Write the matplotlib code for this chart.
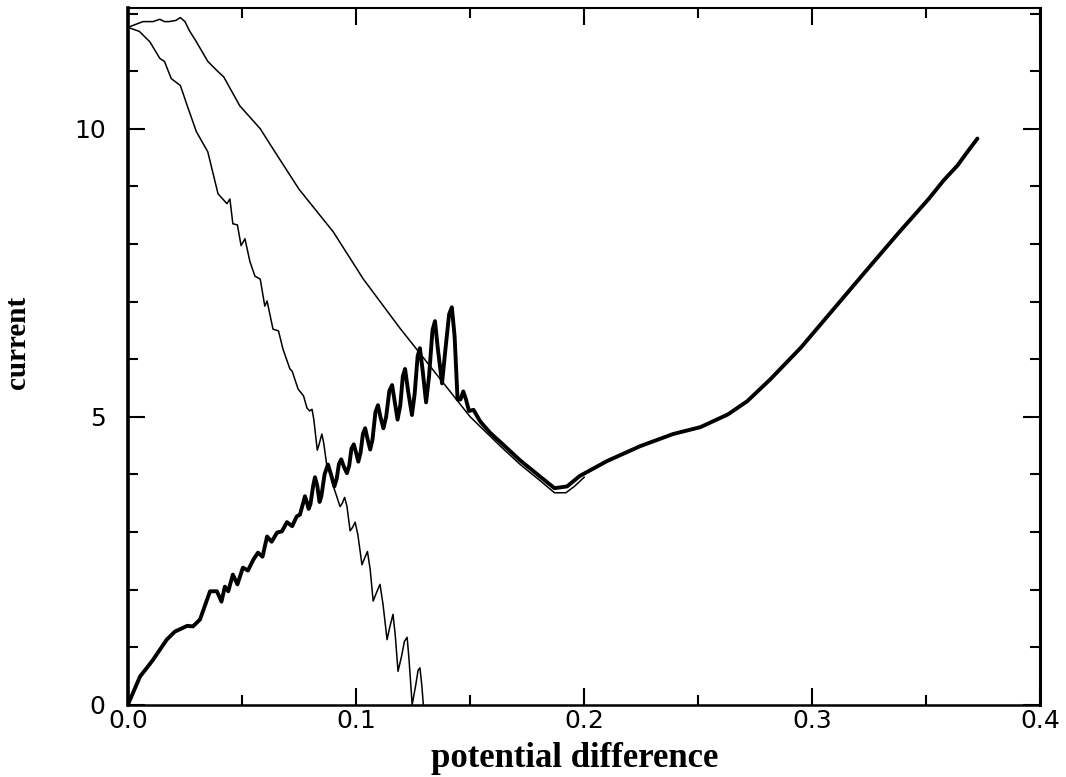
import matplotlib
matplotlib.use("Agg")
import matplotlib.pyplot as plt
from matplotlib.ticker import MultipleLocator

# upper thin curve (slow decay)
upper_x = [0.0, 0.0066, 0.011, 0.014, 0.016, 0.018, 0.021, 0.023, 0.025, 0.027,
           0.030, 0.035, 0.039, 0.042, 0.049, 0.058, 0.0636, 0.075, 0.090, 0.1032,
           0.119, 0.1266, 0.138, 0.150, 0.163, 0.172, 0.181, 0.187, 0.192, 0.196, 0.200]
upper_y = [11.76, 11.86, 11.86, 11.90, 11.86, 11.86, 11.88, 11.93, 11.86, 11.70,
           11.51, 11.17, 11.01, 10.90, 10.40, 10.0, 9.65, 8.95, 8.21, 7.39,
           6.55, 6.17, 5.60, 5.00, 4.50, 4.17, 3.88, 3.68, 3.68, 3.80, 3.95]

# steep thin curve (falls to zero with ripples)
steep_x = [0.0, 0.005, 0.0096, 0.014, 0.016, 0.019, 0.023, 0.026, 0.030, 0.035,
           0.0395, 0.0434, 0.0447, 0.046, 0.048, 0.0496, 0.0513, 0.0535, 0.0557, 0.058,
           0.060, 0.061, 0.0636, 0.066, 0.068, 0.071, 0.072, 0.0746, 0.0770, 0.0785,
           0.0797, 0.0807, 0.0815, 0.0830, 0.0838, 0.0850, 0.0858, 0.0873, 0.0885, 0.0900,
           0.0930, 0.0940, 0.0950, 0.0960, 0.0974, 0.0985, 0.0996, 0.1008, 0.1026, 0.1038,
           0.1050, 0.1062, 0.1075, 0.1090, 0.1105, 0.1118, 0.1136, 0.1148, 0.1162, 0.1172,
           0.1184, 0.1200, 0.1212, 0.1224, 0.1232, 0.1246, 0.1262, 0.1272, 0.1280, 0.1288,
           0.1295]
steep_y = [11.76, 11.69, 11.51, 11.22, 11.17, 10.87, 10.75, 10.40, 9.95, 9.60,
           8.87, 8.70, 8.78, 8.35, 8.33, 7.97, 8.09, 7.69, 7.44, 7.39,
           6.92, 7.01, 6.52, 6.49, 6.17, 5.83, 5.79, 5.48, 5.36, 5.15,
           5.10, 5.13, 4.95, 4.42, 4.52, 4.70, 4.55, 4.12, 4.05, 3.80,
           3.44, 3.50, 3.60, 3.45, 3.02, 3.08, 3.17, 2.95, 2.43, 2.55,
           2.66, 2.35, 1.80, 1.95, 2.09, 1.75, 1.13, 1.35, 1.57, 1.20,
           0.58, 0.85, 1.10, 1.17, 0.80, 0.0, 0.35, 0.60, 0.64, 0.35,
           0.0]

# thick curve (rises, oscillates, dips, rises again)
thick_x = [0.0, 0.0053, 0.0083, 0.011, 0.017, 0.0206, 0.026, 0.0285, 0.0316, 0.036,
           0.039, 0.041, 0.0425, 0.044, 0.046, 0.048, 0.0504, 0.0526, 0.055, 0.057,
           0.059, 0.061, 0.063, 0.0654, 0.0675, 0.0697, 0.072, 0.074, 0.0754, 0.0768,
           0.0776, 0.0784, 0.0792, 0.0800, 0.0812, 0.0820, 0.0830, 0.0840, 0.0848, 0.0862,
           0.0877, 0.0890, 0.0905, 0.0915, 0.0925, 0.0935, 0.0948, 0.0960, 0.0970, 0.0980,
           0.0990, 0.1000, 0.1010, 0.1020, 0.1030, 0.1040, 0.1050, 0.1062, 0.1072, 0.1085,
           0.1096, 0.1108, 0.1120, 0.1132, 0.1146, 0.1158, 0.1170, 0.1182, 0.1194, 0.1205,
           0.1215, 0.1228, 0.1245, 0.1257, 0.1270, 0.1280, 0.1292, 0.1307, 0.1320, 0.1335,
           0.1346, 0.1358, 0.1377, 0.1390, 0.1408, 0.1420, 0.1432, 0.1445, 0.1458, 0.1470,
           0.1482, 0.1495, 0.1515, 0.1544, 0.1588, 0.163, 0.172, 0.181, 0.187, 0.1925,
           0.198, 0.21, 0.2246, 0.239, 0.251, 0.263, 0.2715, 0.2816, 0.295, 0.31,
           0.325, 0.338, 0.351, 0.3575, 0.3636, 0.3684, 0.3724]
thick_y = [0.0, 0.49, 0.64, 0.78, 1.13, 1.27, 1.37, 1.36, 1.48, 1.97,
           1.97, 1.79, 2.05, 1.97, 2.26, 2.09, 2.38, 2.33, 2.52, 2.64,
           2.57, 2.92, 2.83, 2.99, 3.01, 3.17, 3.10, 3.27, 3.30, 3.50,
           3.62, 3.52, 3.40, 3.48, 3.80, 3.95, 3.80, 3.52, 3.62, 4.00,
           4.17, 4.00, 3.79, 3.92, 4.18, 4.26, 4.12, 4.02, 4.15, 4.45,
           4.52, 4.38, 4.22, 4.38, 4.70, 4.80, 4.62, 4.43, 4.60, 5.08,
           5.20, 4.98, 4.80, 5.00, 5.45, 5.55, 5.25, 4.95, 5.20, 5.70,
           5.83, 5.45, 5.03, 5.40, 6.05, 6.19, 5.80, 5.25, 5.70, 6.50,
           6.66, 6.20, 5.58, 6.10, 6.78, 6.90, 6.40, 5.30, 5.30, 5.44,
           5.30, 5.10, 5.12, 4.92, 4.72, 4.57, 4.24, 3.95, 3.76, 3.79,
           3.97, 4.23, 4.49, 4.70, 4.82, 5.04, 5.27, 5.65, 6.20, 6.90,
           7.60, 8.20, 8.78, 9.10, 9.36, 9.62, 9.83]

fig = plt.figure(figsize=(10.66, 7.77), dpi=100)
ax = fig.add_axes([0.120, 0.093, 0.856, 0.897])

ax.plot(upper_x, upper_y, color="black", lw=1.1, solid_joinstyle="round")
ax.plot(steep_x, steep_y, color="black", lw=1.1, solid_joinstyle="round")
ax.plot(thick_x, thick_y, color="black", lw=2.8, solid_joinstyle="round",
        solid_capstyle="round")

ax.set_xlim(0, 0.4)
ax.set_ylim(0, 12.1)
ax.xaxis.set_major_locator(MultipleLocator(0.1))
ax.xaxis.set_minor_locator(MultipleLocator(0.05))
ax.yaxis.set_major_locator(MultipleLocator(5))
ax.yaxis.set_minor_locator(MultipleLocator(1))
ax.set_xticks([0.0, 0.1, 0.2, 0.3, 0.4])
ax.set_xticklabels(["0.0", "0.1", "0.2", "0.3", "0.4"])

ax.tick_params(which="both", direction="in", top=True, right=True,
               labelsize=18, width=1.5, colors="black")
ax.tick_params(which="major", length=12)
ax.tick_params(which="minor", length=7)
ax.tick_params(axis="x", pad=3)
ax.tick_params(axis="y", pad=16)

ax.spines["left"].set_linewidth(2.6)
ax.spines["right"].set_linewidth(2.2)
ax.spines["bottom"].set_linewidth(1.8)
ax.spines["top"].set_linewidth(1.5)

ax.set_xlabel("potential difference", family="Liberation Serif",
              fontweight="bold", fontsize=25)
ax.xaxis.set_label_coords(0.49, -0.054)
ax.xaxis.label.set_va("top")
ax.set_ylabel("current", family="Liberation Serif", fontweight="bold",
              fontsize=21)
ax.yaxis.set_label_coords(-0.106, 0.52)

fig.savefig("out.png", dpi=100)
